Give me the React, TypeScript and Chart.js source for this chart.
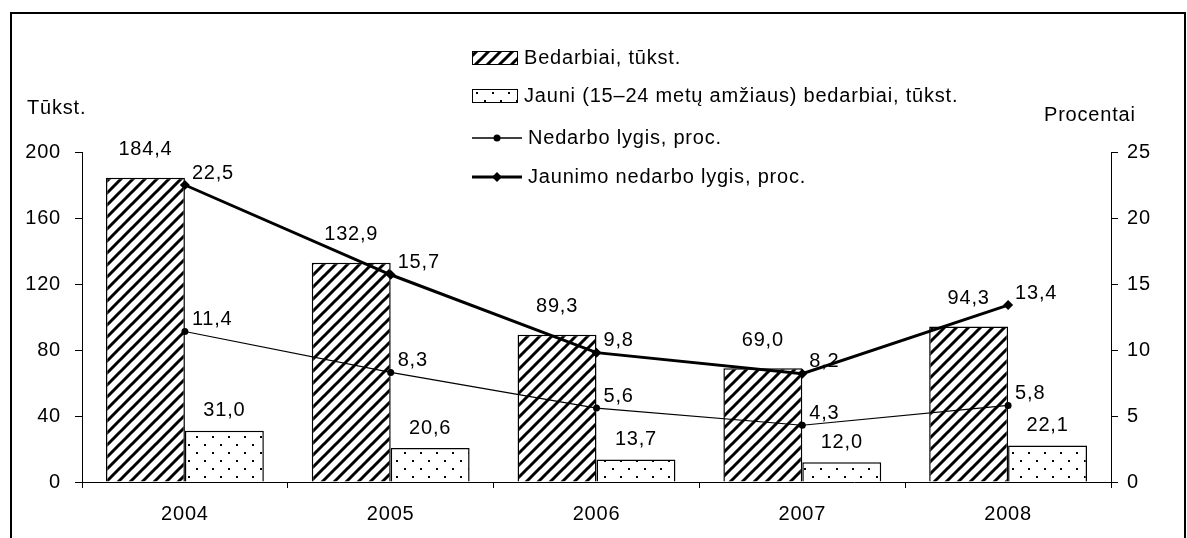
import React, { useEffect, useRef } from "react";
import { Chart, registerables } from "chart.js";

Chart.register(...registerables);

const years = ["2004", "2005", "2006", "2007", "2008"];
const unemployed = [184.4, 132.9, 89.3, 69.0, 94.3];
const youthUnemployed = [31.0, 20.6, 13.7, 12.0, 22.1];
const unemploymentRate = [11.4, 8.3, 5.6, 4.3, 5.8];
const youthUnemploymentRate = [22.5, 15.7, 9.8, 8.2, 13.4];

const legendLabels = [
  "Bedarbiai, tūkst.",
  "Jauni (15–24 metų amžiaus) bedarbiai, tūkst.",
  "Nedarbo lygis, proc.",
  "Jaunimo nedarbo lygis, proc.",
];
const leftTitle = "Tūkst.";
const rightTitle = "Procentai";

const FONT = "Liberation Sans, Arial, sans-serif";
const FS = 20;
const SPACING = "0.8px";

function fmt(v: number) {
  return v.toFixed(1).replace(".", ",");
}

function makeHatch(ctx: CanvasRenderingContext2D) {
  const c = document.createElement("canvas");
  const s = 12;
  c.width = s;
  c.height = s;
  const g = c.getContext("2d")!;
  g.fillStyle = "#fff";
  g.fillRect(0, 0, s, s);
  g.strokeStyle = "#000";
  g.lineWidth = 3;
  g.beginPath();
  g.moveTo(-s, 2 * s);
  g.lineTo(2 * s, -s);
  g.moveTo(-s, s);
  g.lineTo(s, -s);
  g.moveTo(0, 2 * s);
  g.lineTo(2 * s, 0);
  g.stroke();
  return ctx.createPattern(c, "repeat")!;
}

function makeDots(ctx: CanvasRenderingContext2D) {
  const c = document.createElement("canvas");
  const s = 16;
  c.width = s;
  c.height = s;
  const g = c.getContext("2d")!;
  g.fillStyle = "#fff";
  g.fillRect(0, 0, s, s);
  g.fillStyle = "#000";
  g.fillRect(4, 4, 2, 2);
  g.fillRect(12, 12, 2, 2);
  return ctx.createPattern(c, "repeat")!;
}

export default function App() {
  const ref = useRef<HTMLCanvasElement>(null);

  useEffect(() => {
    const canvas = ref.current!;
    const ctx = canvas.getContext("2d")!;
    const hatch = makeHatch(ctx);
    const dots = makeDots(ctx);

    const spacing = {
      id: "spacing",
      beforeDraw(chart: any) {
        (chart.ctx as any).letterSpacing = SPACING;
      },
    };

    const extras = {
      id: "extras",
      afterDatasetsDraw(chart: any) {
        const c = chart.ctx as CanvasRenderingContext2D;
        c.save();
        (c as any).letterSpacing = SPACING;
        c.fillStyle = "#000";
        c.font = `${FS}px ${FONT}`;
        // bar labels
        [0, 1].forEach((di) => {
          const meta = chart.getDatasetMeta(di);
          const vals = chart.data.datasets[di].data as number[];
          const off = di === 0 ? 28 : 20;
          meta.data.forEach((el: any, i: number) => {
            c.textAlign = "center";
            c.textBaseline = "middle";
            c.fillText(fmt(vals[i]), el.x, el.y - off);
          });
        });
        // line labels
        [2, 3].forEach((di) => {
          const meta = chart.getDatasetMeta(di);
          const vals = chart.data.datasets[di].data as number[];
          meta.data.forEach((el: any, i: number) => {
            c.textAlign = "left";
            c.textBaseline = "middle";
            c.fillText(fmt(vals[i]), el.x + 7, el.y - 12);
          });
        });

        // axis titles
        c.textAlign = "left";
        c.fillText(leftTitle, 27, 108);
        c.fillText(rightTitle, 1044, 115);

        // legend
        const lx = 472;
        const lw = 46;
        const tx = 524;
        const ys = [58, 96, 138, 177];
        c.lineWidth = 1;
        c.strokeStyle = "#000";
        c.fillStyle = hatch;
        c.fillRect(lx, ys[0] - 7, lw, 14);
        c.strokeRect(lx + 0.5, ys[0] - 6.5, lw - 1, 13);
        c.fillStyle = dots;
        c.fillRect(lx, ys[1] - 7, lw, 14);
        c.strokeRect(lx + 0.5, ys[1] - 6.5, lw - 1, 13);

        c.beginPath();
        c.lineWidth = 1.5;
        c.moveTo(lx, ys[2]);
        c.lineTo(lx + 50, ys[2]);
        c.stroke();
        c.fillStyle = "#000";
        c.beginPath();
        c.arc(lx + 25, ys[2], 3.5, 0, Math.PI * 2);
        c.fill();

        c.beginPath();
        c.lineWidth = 3;
        c.moveTo(lx, ys[3]);
        c.lineTo(lx + 50, ys[3]);
        c.stroke();
        c.beginPath();
        c.moveTo(lx + 25, ys[3] - 5);
        c.lineTo(lx + 30, ys[3]);
        c.lineTo(lx + 25, ys[3] + 5);
        c.lineTo(lx + 20, ys[3]);
        c.closePath();
        c.fill();

        c.fillStyle = "#000";
        c.textAlign = "left";
        c.textBaseline = "middle";
        legendLabels.forEach((t, i) => {
          c.fillText(t, i < 2 ? tx : tx + 4, ys[i]);
        });

        // frame
        c.lineWidth = 2;
        c.strokeStyle = "#000";
        c.strokeRect(11, 13, 1174, 600);
        c.restore();
      },
    };

    const chart = new Chart(canvas, {
      type: "bar",
      data: {
        labels: years,
        datasets: [
          {
            type: "bar",
            label: legendLabels[0],
            data: unemployed,
            backgroundColor: hatch,
            borderColor: "#000",
            borderWidth: 1.5,
            yAxisID: "y",
            categoryPercentage: 0.767,
            barPercentage: 1,
            order: 2,
          },
          {
            type: "bar",
            label: legendLabels[1],
            data: youthUnemployed,
            backgroundColor: dots,
            borderColor: "#000",
            borderWidth: 1.5,
            yAxisID: "y",
            categoryPercentage: 0.767,
            barPercentage: 1,
            order: 2,
          },
          {
            type: "line",
            label: legendLabels[2],
            data: unemploymentRate,
            borderColor: "#000",
            backgroundColor: "#000",
            borderWidth: 1.2,
            pointStyle: "circle",
            pointRadius: 3.5,
            pointBorderWidth: 0,
            yAxisID: "y1",
            tension: 0,
            order: 0,
          } as any,
          {
            type: "line",
            label: legendLabels[3],
            data: youthUnemploymentRate,
            borderColor: "#000",
            backgroundColor: "#000",
            borderWidth: 3,
            pointStyle: "rectRot",
            pointRadius: 5,
            pointBorderWidth: 0,
            yAxisID: "y1",
            tension: 0,
            order: 0,
          } as any,
        ],
      },
      options: {
        responsive: false,
        animation: false,
        events: [],
        layout: { padding: { top: 152, left: 0, right: 0, bottom: 0 } },
        plugins: {
          legend: { display: false },
          tooltip: { enabled: false },
          title: { display: false },
        },
        scales: {
          x: {
            type: "category",
            offset: true,
            grid: {
              offset: true,
              drawOnChartArea: false,
              drawTicks: true,
              tickLength: 6,
              color: "#000",
            },
            border: { display: true, color: "#000", width: 1 },
            ticks: {
              color: "#000",
              font: { family: FONT, size: FS },
              padding: 14,
              maxRotation: 0,
            },
            afterFit(scale: any) {
              scale.height = 56;
            },
          },
          y: {
            position: "left",
            min: 0,
            max: 200,
            ticks: {
              stepSize: 40,
              color: "#000",
              font: { family: FONT, size: FS },
              padding: 14,
            },
            grid: {
              drawOnChartArea: false,
              drawTicks: true,
              tickLength: 7,
              color: "#000",
            },
            border: { display: true, color: "#000", width: 1 },
            afterFit(scale: any) {
              scale.width = 82;
            },
          },
          y1: {
            position: "right",
            min: 0,
            max: 25,
            ticks: {
              stepSize: 5,
              color: "#000",
              font: { family: FONT, size: FS },
              padding: 9,
            },
            grid: {
              drawOnChartArea: false,
              drawTicks: true,
              tickLength: 7,
              color: "#000",
            },
            border: { display: true, color: "#000", width: 1 },
            afterFit(scale: any) {
              scale.width = 76;
            },
          },
        },
      },
      plugins: [spacing, extras],
    });

    return () => chart.destroy();
  }, []);

  return (
    <div style={{ position: "fixed", left: 0, top: 0, width: 1187, height: 538, background: "#fff" }}>
      <canvas ref={ref} width={1187} height={538} style={{ display: "block" }} />
    </div>
  );
}
